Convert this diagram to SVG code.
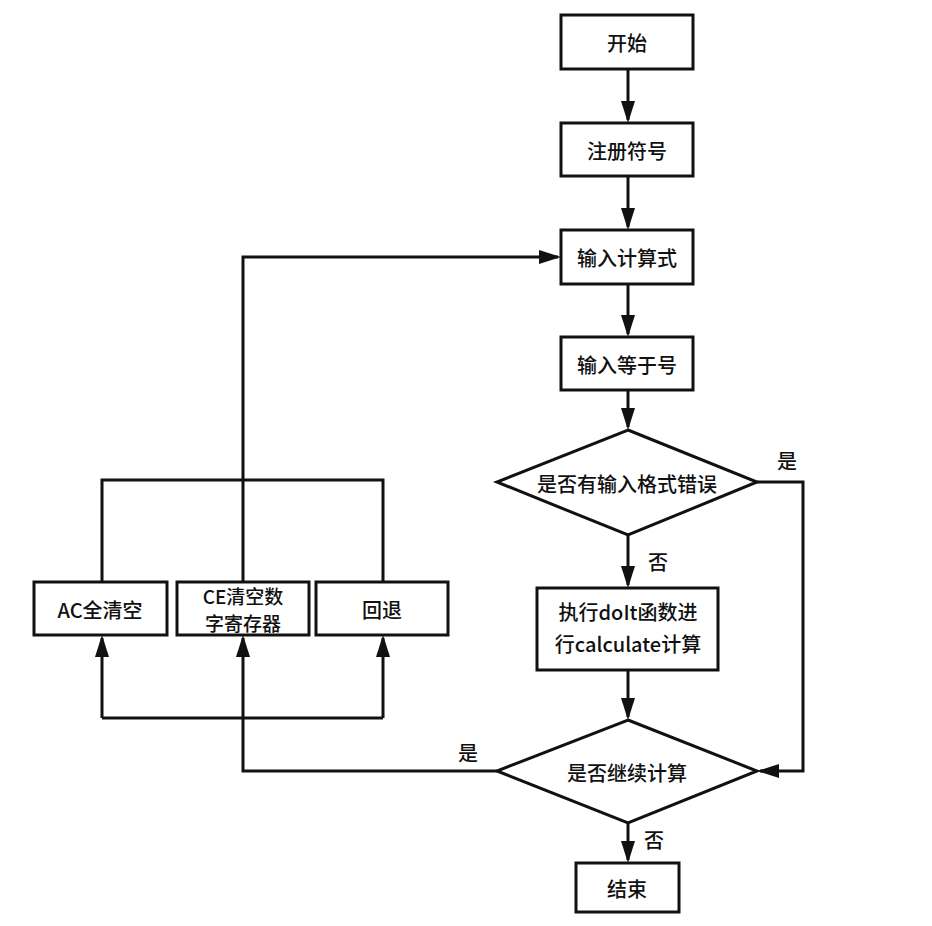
<svg xmlns="http://www.w3.org/2000/svg" width="932" height="926" viewBox="0 0 932 926">
<style>
.box{fill:#fff;stroke:#111;stroke-width:3}
.t{font-family:"Noto Sans CJK SC","Noto Sans",sans-serif;font-size:20px;font-weight:500;fill:#111;text-anchor:middle;dominant-baseline:central}
.s{font-size:19px}
.ln{fill:none;stroke:#111;stroke-width:3}
</style>
<defs>
<marker id="ah" markerUnits="userSpaceOnUse" markerWidth="24" markerHeight="16" refX="19" refY="7" orient="auto">
<path d="M0,0 L22,7 L0,14 z" fill="#111"/>
</marker>
</defs>
<rect width="932" height="926" fill="#fff"/>
<g id="connectors">
<path class="ln" d="M628,69 V120" marker-end="url(#ah)"/>
<path class="ln" d="M628,176 V227" marker-end="url(#ah)"/>
<path class="ln" d="M628,284 V334" marker-end="url(#ah)"/>
<path class="ln" d="M628,390 V427" marker-end="url(#ah)"/>
<path class="ln" d="M628,535 V585" marker-end="url(#ah)"/>
<path class="ln" d="M628,670 V717" marker-end="url(#ah)"/>
<path class="ln" d="M628,823 V860" marker-end="url(#ah)"/>
<path class="ln" d="M757,482 H803 V771 H760" marker-end="url(#ah)"/>
<path class="ln" d="M497,771 H243 V638" marker-end="url(#ah)"/>
<path class="ln" d="M102,718 H383"/>
<path class="ln" d="M102,718 V638" marker-end="url(#ah)"/>
<path class="ln" d="M383,718 V638" marker-end="url(#ah)"/>
<path class="ln" d="M102,582 V480 H383 V582"/>
<path class="ln" d="M243,582 V257 H558" marker-end="url(#ah)"/>
<text class="t" x="787" y="460">是</text>
<text class="t" x="658" y="561">否</text>
<text class="t" x="468" y="752">是</text>
<text class="t" x="654" y="839">否</text>
</g>
<g id="start"><rect class="box" x="561" y="15" width="132" height="54"/><text class="t" x="627" y="42">开始</text></g>
<g id="register"><rect class="box" x="561" y="123" width="132" height="53"/><text class="t" x="627" y="150">注册符号</text></g>
<g id="inputExpr"><rect class="box" x="561" y="230" width="132" height="54"/><text class="t" x="627" y="257">输入计算式</text></g>
<g id="inputEq"><rect class="box" x="561" y="337" width="132" height="53"/><text class="t" x="627" y="364">输入等于号</text></g>
<g id="checkErr"><polygon class="box" points="628,430 757,482 628,535 497,482"/><text class="t" x="627" y="483">是否有输入格式错误</text></g>
<g id="calc"><rect class="box" x="537" y="588" width="181" height="82"/><text class="t" x="628" y="611">执行doIt函数进</text><text class="t" x="628" y="643">行calculate计算</text></g>
<g id="continue"><polygon class="box" points="628,720 757,771 628,823 497,771"/><text class="t" x="627" y="772">是否继续计算</text></g>
<g id="end"><rect class="box" x="576" y="863" width="103" height="49"/><text class="t" x="627" y="888">结束</text></g>
<g id="ac"><rect class="box" x="34" y="582" width="133" height="53"/><text class="t" x="100" y="609">AC全清空</text></g>
<g id="ce"><rect class="box" x="177" y="582" width="132" height="53"/><text class="t s" x="243" y="595">CE清空数</text><text class="t s" x="243" y="622">字寄存器</text></g>
<g id="back"><rect class="box" x="316" y="582" width="132" height="53"/><text class="t" x="382" y="609">回退</text></g>
</svg>
